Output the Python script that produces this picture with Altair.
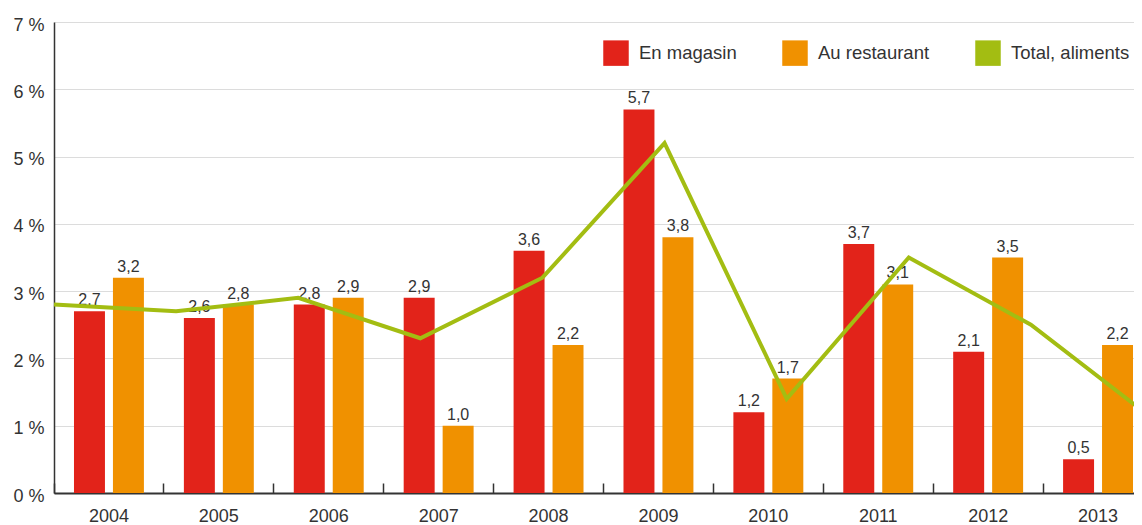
import altair as alt
import pandas as pd

years = ["2004", "2005", "2006", "2007", "2008", "2009", "2010", "2011", "2012", "2013"]
en_magasin = [2.7, 2.6, 2.8, 2.9, 3.6, 5.7, 1.2, 3.7, 2.1, 0.5]
au_restaurant = [3.2, 2.8, 2.9, 1.0, 2.2, 3.8, 1.7, 3.1, 3.5, 2.2]
total_aliments = [2.8, 2.7, 2.9, 2.3, 3.2, 5.2, 1.4, 3.5, 2.5, 1.1]
series = ["En magasin", "Au restaurant", "Total, aliments"]
colors = ["#e2231a", "#f09100", "#a3bd12"]
y_ticks = [0, 1, 2, 3, 4, 5, 6, 7]

rows = []
for i, yr in enumerate(years):
    rows.append({"Année": yr, "Série": series[0], "Valeur": en_magasin[i]})
    rows.append({"Année": yr, "Série": series[1], "Valeur": au_restaurant[i]})
bars_df = pd.DataFrame(rows)
bars_df["Etiquette"] = bars_df["Valeur"].map(lambda v: f"{v:.1f}".replace(".", ","))
line_df = pd.DataFrame({"AnnéeL": years, "Série": series[2], "Valeur": total_aliments})

W, H = 1099, 471
FONT = "Liberation Sans"
TXT = "#333333"

y_enc = alt.Y(
    "Valeur:Q",
    scale=alt.Scale(domain=[0, 7], nice=False),
    axis=alt.Axis(
        values=y_ticks, labelExpr="datum.value + ' %'", title=None,
        domain=True, domainColor=TXT, domainWidth=1.5, ticks=False,
        labelPadding=10, labelFontSize=18, labelColor=TXT, labelFont=FONT,
        labelOffset=3, grid=True, gridColor="#dcdcdc", gridWidth=1,
    ),
)
x_scale = alt.Scale(paddingInner=0, paddingOuter=0)
xoff = alt.XOffset(
    "Série:N", scale=alt.Scale(domain=series[:2], paddingInner=0.205, paddingOuter=0.513)
)

bars = alt.Chart(bars_df).mark_bar().encode(
    x=alt.X("Année:N", scale=x_scale, title=None,
            axis=alt.Axis(orient="bottom", domain=True, domainColor=TXT, domainWidth=2,
                          ticks=False, tickSize=0, labels=True, labelFontSize=18,
                          labelColor=TXT, labelFont=FONT, labelPadding=14, labelAngle=0,
                          grid=False)),
    xOffset=xoff,
    y=y_enc,
    color=alt.Color("Série:N", scale=alt.Scale(domain=series, range=colors),
                    legend=alt.Legend(orient="none", legendX=549, legendY=18,
                                      direction="horizontal", title=None,
                                      symbolType="square", symbolSize=650,
                                      symbolStrokeWidth=0, symbolOpacity=1,
                                      labelFontSize=18.5, labelColor=TXT, labelFont=FONT,
                                      labelOffset=10, columnPadding=45, padding=0)),
)

labels = alt.Chart(bars_df).mark_text(
    fontSize=16, font=FONT, color=TXT, baseline="alphabetic", dy=-6
).encode(
    x=alt.X("Année:N", scale=x_scale, title=None,
            axis=alt.Axis(orient="bottom", domain=False, labels=False, ticks=True,
                          tickSize=10, tickColor=TXT, tickWidth=1.5, bandPosition=0,
                          offset=-10, grid=False)),
    xOffset=xoff,
    y=y_enc,
    text="Etiquette:N",
)

line = alt.Chart(line_df).mark_line(color=colors[2], strokeWidth=4).encode(
    x=alt.X("AnnéeL:O", scale=alt.Scale(type="point", padding=0), axis=None),
    y=y_enc,
)

inner = alt.layer(bars, labels).resolve_axis(x="independent")
chart = alt.layer(inner, line).resolve_scale(x="independent").properties(
    width=W, height=H,
    autosize=alt.AutoSizeParams(type="none"),
    padding={"left": 46, "top": 14, "right": -19, "bottom": 32},
).configure_view(stroke=None)

chart.save("out.html", embed_options={"renderer": "svg", "actions": False})
